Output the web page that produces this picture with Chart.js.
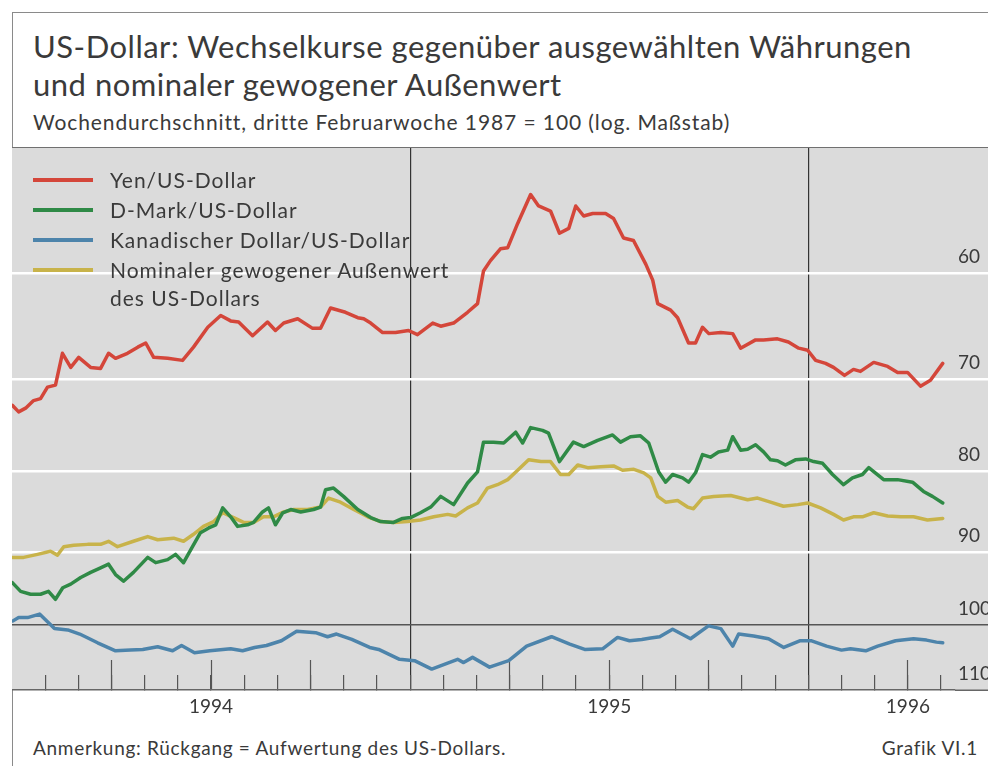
<!DOCTYPE html>
<html>
<head>
<meta charset="utf-8">
<script src="https://cdn.jsdelivr.net/npm/chart.js@4.4.1/dist/chart.umd.min.js"></script>
<style>
  body { margin: 0; width: 988px; height: 766px; background: #fff; position: relative; overflow: hidden; font-family: Lato, sans-serif; color: #3a3a3a; }
  .frame { position: absolute; left: 12px; top: 12px; width: 990px; height: 770px; border-left: 1.5px solid #8a8a8a; border-top: 1.5px solid #8a8a8a; }
  .title { position: absolute; left: 33px; top: 27px; font-size: 31px; letter-spacing: 0.5px; line-height: 38px; white-space: nowrap; }
  .sub { position: absolute; left: 33px; top: 109px; font-size: 21px; letter-spacing: 0.9px; line-height: 26px; white-space: nowrap; }
  .sep { position: absolute; left: 12px; top: 147px; width: 976px; height: 0; border-top: 1.5px solid #707070; }
  .wrap { position: absolute; left: 12px; top: 148px; width: 976px; height: 582px; }
  .legend { position: absolute; left: 33px; top: 166px; font-size: 21px; letter-spacing: 1px; }
  .legend .item { position: relative; padding-left: 77px; line-height: 28px; margin-bottom: 2px; white-space: nowrap; }
  .legend .swatch { position: absolute; left: 0; top: 12px; width: 60px; height: 4px; }
  .note { position: absolute; left: 33px; top: 736px; font-size: 19px; letter-spacing: 0.7px; white-space: nowrap; }
  .grafik { position: absolute; right: 10px; top: 736px; font-size: 19px; letter-spacing: 0.7px; white-space: nowrap; }
</style>
</head>
<body>
<div class="frame"></div>
<div class="title">US-Dollar: Wechselkurse gegenüber ausgewählten Währungen<br>und nominaler gewogener Außenwert</div>
<div class="sub">Wochendurchschnitt, dritte Februarwoche 1987 = 100 (log. Maßstab)</div>
<div class="wrap"><canvas id="myChart" width="976" height="582"></canvas></div>
<div class="sep"></div>
<div class="legend" id="legend"></div>
<div class="note">Anmerkung: Rückgang = Aufwertung des US-Dollars.</div>
<div class="grafik">Grafik VI.1</div>
<script>
// time axis: months since 1 January 1994
const yenMonths = [0.01, 0.20, 0.41, 0.65, 0.86, 1.07, 1.31, 1.52, 1.77, 2.01, 2.37, 2.67, 2.91, 3.12, 3.48, 3.79, 4.03, 4.27, 4.69, 5.14, 5.47, 5.90, 6.29, 6.59, 6.83, 7.25, 7.70, 7.94, 8.19, 8.61, 9.06, 9.30, 9.60, 10.05, 10.42, 10.60, 10.81, 11.17, 11.56, 11.95, 12.22, 12.68, 12.92, 13.31, 13.73, 14.03, 14.21, 14.42, 14.72, 14.94, 15.24, 15.63, 15.87, 16.23, 16.50, 16.78, 16.99, 17.23, 17.50, 17.89, 18.13, 18.43, 18.73, 19.10, 19.31, 19.46, 19.85, 20.06, 20.39, 20.60, 20.81, 21.00, 21.36, 21.72, 21.96, 22.41, 22.65, 23.07, 23.40, 23.71, 23.98, 24.22, 24.52, 24.76, 25.09, 25.36, 25.57, 25.97, 26.39, 26.69, 26.99, 27.38, 27.68, 28.05];
const yenValues = [72.7, 73.4, 73.0, 72.2, 72.0, 70.8, 70.6, 67.4, 68.8, 67.8, 68.8, 68.9, 67.4, 67.9, 67.4, 66.8, 66.4, 67.8, 67.9, 68.1, 66.8, 64.9, 63.8, 64.3, 64.4, 65.7, 64.4, 65.2, 64.5, 64.1, 65.0, 65.0, 63.1, 63.5, 64.0, 64.1, 64.5, 65.4, 65.4, 65.2, 65.6, 64.5, 64.8, 64.5, 63.5, 62.7, 59.8, 58.9, 57.9, 57.8, 55.8, 53.5, 54.4, 54.8, 56.6, 56.2, 54.4, 55.2, 55.0, 55.0, 55.4, 57.0, 57.2, 59.2, 60.6, 62.7, 63.3, 64.0, 66.4, 66.4, 64.9, 65.5, 65.4, 65.5, 66.9, 66.1, 66.1, 66.0, 66.3, 66.9, 67.1, 68.1, 68.4, 68.8, 69.6, 69.0, 69.2, 68.3, 68.7, 69.3, 69.3, 70.7, 70.1, 68.4];

const dmMonths = [0.01, 0.26, 0.56, 0.86, 1.10, 1.31, 1.53, 1.77, 2.07, 2.37, 2.67, 2.91, 3.12, 3.36, 3.66, 4.09, 4.33, 4.69, 4.93, 5.17, 5.44, 5.68, 5.93, 6.14, 6.35, 6.59, 6.80, 7.10, 7.28, 7.55, 7.73, 7.94, 8.16, 8.40, 8.70, 9.09, 9.30, 9.45, 9.69, 9.99, 10.42, 10.81, 11.11, 11.50, 11.77, 12.01, 12.31, 12.62, 12.92, 13.31, 13.73, 14.03, 14.21, 14.51, 14.82, 15.18, 15.39, 15.63, 15.99, 16.17, 16.50, 16.92, 17.23, 17.65, 18.10, 18.34, 18.64, 18.94, 19.19, 19.49, 19.70, 19.91, 20.21, 20.39, 20.60, 20.81, 21.05, 21.29, 21.57, 21.72, 21.96, 22.17, 22.41, 22.65, 22.86, 23.07, 23.31, 23.61, 23.92, 24.16, 24.43, 24.73, 25.06, 25.33, 25.63, 25.82, 26.27, 26.69, 27.14, 27.47, 27.74, 28.05];
const dmValues = [94.1, 95.3, 95.7, 95.7, 95.3, 96.4, 94.8, 94.3, 93.4, 92.7, 92.1, 91.6, 93.0, 93.9, 92.7, 90.7, 91.4, 91.0, 90.3, 91.4, 89.3, 87.5, 86.9, 86.5, 84.4, 85.5, 86.7, 86.5, 86.2, 84.9, 84.4, 86.5, 85.0, 84.6, 84.9, 84.6, 84.3, 82.2, 82.0, 83.0, 84.6, 85.6, 86.1, 86.2, 85.7, 85.6, 85.0, 84.3, 83.0, 84.0, 81.4, 80.1, 76.7, 76.7, 76.8, 75.6, 76.8, 75.1, 75.4, 75.7, 78.9, 76.7, 77.2, 76.5, 75.9, 76.7, 76.1, 76.0, 76.8, 80.1, 81.3, 80.4, 80.8, 81.3, 80.2, 78.1, 78.4, 77.8, 77.6, 76.1, 77.6, 77.5, 77.0, 77.8, 78.7, 78.8, 79.3, 78.7, 78.6, 78.9, 79.1, 80.4, 81.6, 80.8, 80.4, 79.6, 81.0, 81.0, 81.3, 82.4, 83.0, 83.8];

const cadMonths = [0.02, 0.20, 0.47, 0.83, 1.28, 1.68, 2.04, 2.58, 3.12, 3.57, 3.94, 4.39, 4.84, 5.11, 5.50, 5.96, 6.59, 6.95, 7.31, 7.67, 8.12, 8.58, 9.15, 9.51, 9.78, 10.24, 10.78, 11.05, 11.68, 12.13, 12.65, 13.07, 13.43, 13.61, 13.88, 14.39, 14.97, 15.51, 16.26, 16.81, 17.26, 17.80, 18.25, 18.61, 18.98, 19.25, 19.52, 19.91, 20.45, 20.99, 21.36, 21.72, 21.90, 22.35, 22.80, 23.26, 23.74, 24.10, 24.55, 25.00, 25.27, 25.73, 26.09, 26.63, 27.17, 27.56, 27.86, 28.05];
const cadValues = [99.5, 99.0, 99.0, 98.5, 100.6, 100.8, 101.4, 102.7, 103.9, 103.8, 103.7, 103.3, 103.9, 103.1, 104.2, 103.9, 103.6, 103.9, 103.4, 103.1, 102.4, 101.0, 101.2, 101.8, 101.4, 102.2, 103.4, 103.7, 105.2, 105.4, 106.7, 105.9, 105.2, 105.7, 104.9, 106.4, 105.4, 103.2, 101.8, 102.9, 103.7, 103.6, 101.9, 102.4, 102.2, 102.0, 101.8, 100.7, 102.1, 100.2, 100.6, 103.2, 101.4, 101.7, 102.1, 103.4, 102.4, 102.4, 103.2, 103.8, 103.6, 103.9, 103.2, 102.4, 102.1, 102.3, 102.6, 102.7];

const neerMonths = [0.01, 0.35, 0.77, 1.16, 1.37, 1.56, 1.86, 2.28, 2.67, 2.91, 3.18, 3.66, 4.09, 4.39, 4.87, 5.17, 5.47, 5.77, 6.08, 6.35, 6.68, 6.98, 7.28, 7.58, 7.88, 8.19, 8.49, 8.91, 9.30, 9.54, 9.90, 10.30, 10.72, 11.11, 11.50, 11.92, 12.31, 12.71, 13.13, 13.37, 13.73, 14.03, 14.33, 14.63, 14.94, 15.24, 15.57, 15.94, 16.23, 16.53, 16.78, 17.05, 17.35, 17.74, 18.13, 18.40, 18.74, 19.04, 19.25, 19.46, 19.70, 20.06, 20.36, 20.54, 20.81, 21.15, 21.66, 22.17, 22.47, 22.86, 23.25, 23.68, 23.98, 24.37, 24.76, 25.06, 25.36, 25.63, 25.97, 26.39, 26.79, 27.17, 27.59, 28.05];
const neerValues = [90.7, 90.7, 90.3, 89.9, 90.4, 89.3, 89.1, 89.0, 89.0, 88.6, 89.3, 88.6, 88.0, 88.4, 88.2, 88.6, 87.7, 86.7, 86.1, 85.0, 85.6, 86.2, 86.2, 85.5, 85.5, 84.9, 84.6, 84.6, 84.3, 83.2, 83.7, 84.6, 85.5, 86.1, 86.2, 86.1, 85.9, 85.5, 85.2, 85.4, 84.4, 83.8, 82.0, 81.6, 81.0, 79.9, 78.7, 78.9, 78.9, 80.4, 80.4, 79.3, 79.6, 79.5, 79.4, 79.9, 79.8, 80.2, 80.8, 83.0, 83.7, 83.5, 84.3, 84.5, 83.2, 83.0, 82.9, 83.4, 83.2, 83.7, 84.2, 84.0, 83.8, 84.4, 85.2, 85.9, 85.5, 85.5, 85.0, 85.4, 85.5, 85.5, 85.9, 85.7];

const monthTicks = Array.from({ length: 29 }, (_, i) => i);
const quarterTicks = [3, 6, 9, 15, 18, 21, 27];
const yearLabelMonths = [6, 18, 27];
const yearLabels = ['1994', '1995', '1996'];
const yearLines = [12, 24];
const yTicks = [60, 70, 80, 90, 100, 110];

const pairs = (xs, ys) => xs.map((x, i) => ({ x: x, y: ys[i] }));
const axisFont = { family: 'Lato', size: 19 };
const clear = 'rgba(0,0,0,0)';
const xEnd = 28.42;      // right edge of the plot, in months
const yAxisWidth = 33;   // label strip on the right

const plotBackground = {
  id: 'plotBackground',
  beforeDraw(chart) {
    const { ctx, chartArea } = chart;
    ctx.save();
    ctx.fillStyle = '#dbdbdb';
    ctx.fillRect(chartArea.left, chartArea.top, chart.width - chartArea.left, chartArea.bottom - chartArea.top);
    ctx.restore();
  }
};

const noPadding = (s) => { s.paddingTop = 0; s.paddingBottom = 0; s.paddingLeft = 0; s.paddingRight = 0; };
const yLineColor = (v) => (v === 100 ? '#555' : v === 110 ? '#666' : '#ffffff');

const ctx = document.getElementById('myChart').getContext('2d');
const chart = new Chart(ctx, {
  type: 'line',
  data: {
    datasets: [
      { label: 'Yen/US-Dollar', data: pairs(yenMonths, yenValues), borderColor: '#d4463a' },
      { label: 'D-Mark/US-Dollar', data: pairs(dmMonths, dmValues), borderColor: '#2f8a46' },
      { label: 'Kanadischer Dollar/US-Dollar', data: pairs(cadMonths, cadValues), borderColor: '#4d84ab' },
      { label: ['Nominaler gewogener Außenwert', 'des US-Dollars'], data: pairs(neerMonths, neerValues), borderColor: '#c8b34a' }
    ]
  },
  options: {
    responsive: false,
    animation: false,
    layout: { padding: 0 },
    elements: { point: { radius: 0 }, line: { borderWidth: 3.5, tension: 0, borderCapStyle: 'round', borderJoinStyle: 'round' } },
    plugins: { legend: { display: false }, tooltip: { enabled: false } },
    scales: {
      x: {
        type: 'linear', position: 'bottom', min: 0, max: xEnd,
        afterBuildTicks: (s) => { s.ticks = monthTicks.map((v) => ({ value: v })); },
        afterFit: (s) => { s.height = 40; noPadding(s); },
        grid: {
          color: (c) => (c.tick && yearLines.includes(c.tick.value) ? '#333' : clear),
          lineWidth: 1.2,
          tickLength: -15,
          tickWidth: 1.2,
          tickColor: (c) => (c.tick && c.tick.value === 0 ? clear : '#555')
        },
        border: { display: true, color: '#666', width: 1.5 },
        ticks: {
          autoSkip: false, maxRotation: 0, padding: 20, font: axisFont, color: '#3a3a3a',
          callback: (v) => { const i = yearLabelMonths.indexOf(v); return i >= 0 ? yearLabels[i] : ''; }
        }
      },
      xq: {
        axis: 'x', type: 'linear', position: { y: 110 }, min: 0, max: xEnd,
        afterBuildTicks: (s) => { s.ticks = quarterTicks.map((v) => ({ value: v })); },
        afterFit: noPadding,
        grid: { drawOnChartArea: false, tickLength: -30, tickWidth: 1.2, tickColor: '#555' },
        border: { display: false },
        ticks: { display: false }
      },
      y: {
        type: 'logarithmic', position: 'right', reverse: true, min: 50, max: 110,
        afterBuildTicks: (s) => { s.ticks = yTicks.map((v) => ({ value: v })); },
        afterFit: (s) => { s.width = yAxisWidth; noPadding(s); },
        grid: {
          drawTicks: true,
          tickLength: yAxisWidth,
          color: (c) => (c.tick.value === 110 ? clear : yLineColor(c.tick.value)),
          lineWidth: (c) => (c.tick.value === 100 ? 1.5 : 2.5),
          tickColor: (c) => yLineColor(c.tick.value),
          tickWidth: (c) => (c.tick.value === 100 || c.tick.value === 110 ? 1.5 : 2.5)
        },
        border: { display: false },
        ticks: { padding: -30, labelOffset: -16, font: axisFont, color: '#3a3a3a', callback: (v) => String(v) }
      }
    }
  },
  plugins: [plotBackground]
});

// legend as HTML, built from the chart's datasets
const legendBox = document.getElementById('legend');
chart.data.datasets.forEach((ds) => {
  const item = document.createElement('div');
  item.className = 'item';
  const sw = document.createElement('span');
  sw.className = 'swatch';
  sw.style.background = ds.borderColor;
  item.appendChild(sw);
  const lines = Array.isArray(ds.label) ? ds.label : [ds.label];
  lines.forEach((t, i) => {
    if (i) item.appendChild(document.createElement('br'));
    item.appendChild(document.createTextNode(t));
  });
  legendBox.appendChild(item);
});
</script>
</body>
</html>
